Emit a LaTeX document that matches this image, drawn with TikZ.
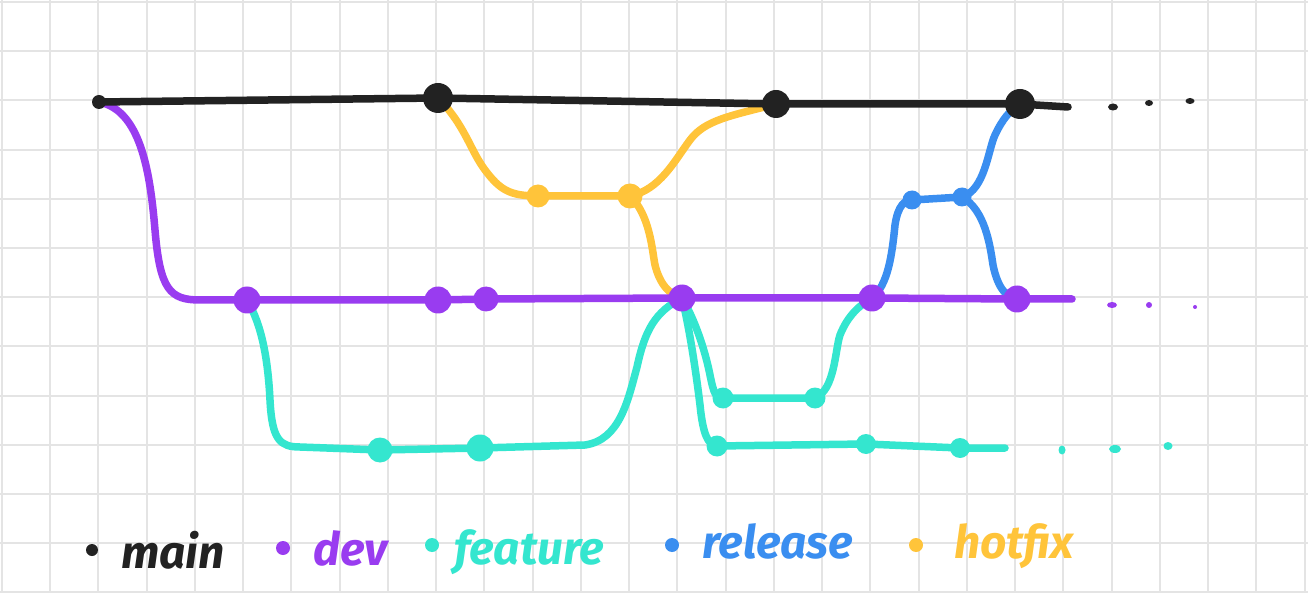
\documentclass[tikz,border=0pt]{standalone}
\usepackage{fontspec}
\setmainfont{Fira Sans}
\definecolor{cmain}{HTML}{222222}
\definecolor{cdev}{HTML}{993CF0}
\definecolor{cfeat}{HTML}{34E6CF}
\definecolor{crel}{HTML}{3A8EF0}
\definecolor{chot}{HTML}{FFC43A}
\definecolor{cgrid}{HTML}{E4E4E4}
\tikzset{
  gridl/.style={draw=cgrid, line width=2pt},
  br/.style={line width=7.5pt, line cap=round, line join=round},
  cmt/.style={circle, inner sep=0pt, minimum size=#1},
  tdot/.style={ellipse, inner sep=0pt},
  lab/.style={anchor=base west, inner sep=0pt, font=\fontsize{46}{50}\selectfont\bfseries\itshape},
}
\usetikzlibrary{shapes.geometric}
\begin{document}
\begin{tikzpicture}[x=1pt,y=-1pt]
\useasboundingbox (0,0) rectangle (1308,593);
\fill[white] (0,0) rectangle (1308,593);
\foreach \i in {0,...,27} \draw[gridl] ({1.75+48.25*\i},0) -- ({1.75+48.25*\i},593);
\foreach \j in {0,...,12} \draw[gridl] (0,{2+49.2*\j}) -- (1308,{2+49.2*\j});

% commit positions
\coordinate (m0) at (99,102);
\coordinate (m1) at (438,98);
\coordinate (m2) at (776,104);
\coordinate (m3) at (1020,104);
\coordinate (mend) at (1068,107);
\coordinate (d0) at (247,300);
\coordinate (d1) at (438,300);
\coordinate (d2) at (486,299);
\coordinate (d3) at (682,298);
\coordinate (d4) at (872,298);
\coordinate (d5) at (1017,299);
\coordinate (dend) at (1072,299);
\coordinate (f1) at (380,450);
\coordinate (f2) at (480,448);
\coordinate (fb1) at (723,398);
\coordinate (fb2) at (815,398);
\coordinate (fc1) at (717,446);
\coordinate (fc2) at (866,444);
\coordinate (fc3) at (960,448);
\coordinate (fend) at (1005,448);
\coordinate (h1) at (538,196);
\coordinate (h2) at (630,196);
\coordinate (r1) at (912,200);
\coordinate (r2) at (962,197);

% feature branches
\draw[br, cfeat] (d0) .. controls (262,325) and (268,360) .. (270,400)
  .. controls (272,440) and (280,447) .. (300,447) -- (f1) -- (f2) -- (585,445)
  .. controls (620,440) and (628,400) .. (637,367)
  .. controls (645,330) and (655,312) .. (d3);
\draw[br, cfeat] (d3) .. controls (695,320) and (705,350) .. (710,375)
  .. controls (714,395) and (716,398) .. (fb1) -- (fb2)
  .. controls (835,390) and (835,350) .. (840,335)
  .. controls (848,315) and (860,305) .. (d4);
\draw[br, cfeat] (d3) .. controls (690,330) and (697,380) .. (700,405)
  .. controls (703,435) and (708,445) .. (fc1) -- (fc2) -- (fc3) -- (fend);

% hotfix
\draw[br, chot] (m1) .. controls (465,125) and (470,150) .. (485,170)
  .. controls (500,190) and (510,196) .. (h1) -- (h2)
  .. controls (660,190) and (675,160) .. (690,140)
  .. controls (705,120) and (730,116) .. (m2);
\draw[br, chot] (h2) .. controls (650,215) and (652,250) .. (655,265)
  .. controls (660,285) and (670,295) .. (d3);

% release
\draw[br, crel] (d4) .. controls (888,285) and (892,255) .. (895,225)
  .. controls (898,205) and (905,200) .. (r1) -- (r2)
  .. controls (985,190) and (988,150) .. (995,135)
  .. controls (1002,120) and (1010,110) .. (m3);
\draw[br, crel] (r2) .. controls (985,210) and (990,245) .. (993,265)
  .. controls (998,290) and (1008,298) .. (d5);

% dev
\draw[br, cdev] (m0) .. controls (140,110) and (150,170) .. (155,230)
  .. controls (160,290) and (170,300) .. (200,300) -- (d0) -- (d1) -- (d2) -- (d3) -- (d4) -- (d5) -- (dend);

% main
\draw[br, cmain] (m0) -- (m1) -- (m2) -- (m3) -- (mend);

% commit dots
\node[cmt=14pt, fill=cmain] (nm0) at (m0) {};
\node[cmt=30pt, fill=cmain] (nm1) at (m1) {};
\node[cmt=28pt, fill=cmain] (nm2) at (m2) {};
\node[cmt=30pt, fill=cmain] (nm3) at (m3) {};
\node[cmt=27pt, fill=cdev] (nd0) at (d0) {};
\node[cmt=27pt, fill=cdev] (nd1) at (d1) {};
\node[cmt=25pt, fill=cdev] (nd2) at (d2) {};
\node[cmt=27pt, fill=cdev] (nd3) at (d3) {};
\node[cmt=27pt, fill=cdev] (nd4) at (d4) {};
\node[cmt=27pt, fill=cdev] (nd5) at (d5) {};
\node[cmt=25pt, fill=cfeat] (nf1) at (f1) {};
\node[cmt=27pt, fill=cfeat] (nf2) at (f2) {};
\node[cmt=21pt, fill=cfeat] (nfb1) at (fb1) {};
\node[cmt=21pt, fill=cfeat] (nfb2) at (fb2) {};
\node[cmt=21pt, fill=cfeat] (nfc1) at (fc1) {};
\node[cmt=20pt, fill=cfeat] (nfc2) at (fc2) {};
\node[cmt=20pt, fill=cfeat] (nfc3) at (fc3) {};
\node[cmt=23pt, fill=chot] (nh1) at (h1) {};
\node[cmt=25pt, fill=chot] (nh2) at (h2) {};
\node[cmt=19pt, fill=crel] (nr1) at (r1) {};
\node[cmt=19pt, fill=crel] (nr2) at (r2) {};

% trailing dots
\node[tdot, fill=cmain, minimum width=10pt, minimum height=7pt] (tm1) at (1113,107) {};
\node[tdot, fill=cmain, minimum width=8pt, minimum height=6pt] (tm2) at (1149,103) {};
\node[tdot, fill=cmain, minimum width=9pt, minimum height=6pt] (tm3) at (1190,101) {};
\node[tdot, fill=cdev, minimum width=10pt, minimum height=6pt] (td1) at (1112,305) {};
\node[tdot, fill=cdev, minimum width=6pt, minimum height=6pt] (td2) at (1149,305) {};
\node[tdot, fill=cdev, minimum width=4pt, minimum height=4pt] (td3) at (1195,307) {};
\node[tdot, fill=cfeat, minimum width=7pt, minimum height=9pt] (tf1) at (1062,450) {};
\node[tdot, fill=cfeat, minimum width=12pt, minimum height=8pt] (tf2) at (1115,449) {};
\node[tdot, fill=cfeat, minimum width=9pt, minimum height=8pt] (tf3) at (1168,446) {};

% legend
\node[cmt=12pt, fill=cmain] (lm) at (92,550) {};
\node[lab, text=cmain] (lmt) at (121,568) {main};
\node[cmt=14pt, fill=cdev] (ld) at (283,548) {};
\node[lab, text=cdev] (ldt) at (313,565) {dev};
\node[cmt=14pt, fill=cfeat] (lf) at (432,545) {};
\node[lab, text=cfeat] (lft) at (454,564) {feature};
\node[cmt=14pt, fill=crel] (lr) at (672,545) {};
\node[lab, text=crel] (lrt) at (702,558) {release};
\node[cmt=14pt, fill=chot] (lh) at (916,545) {};
\node[lab, text=chot] (lht) at (954,558) {hotfix};
\end{tikzpicture}
\end{document}
